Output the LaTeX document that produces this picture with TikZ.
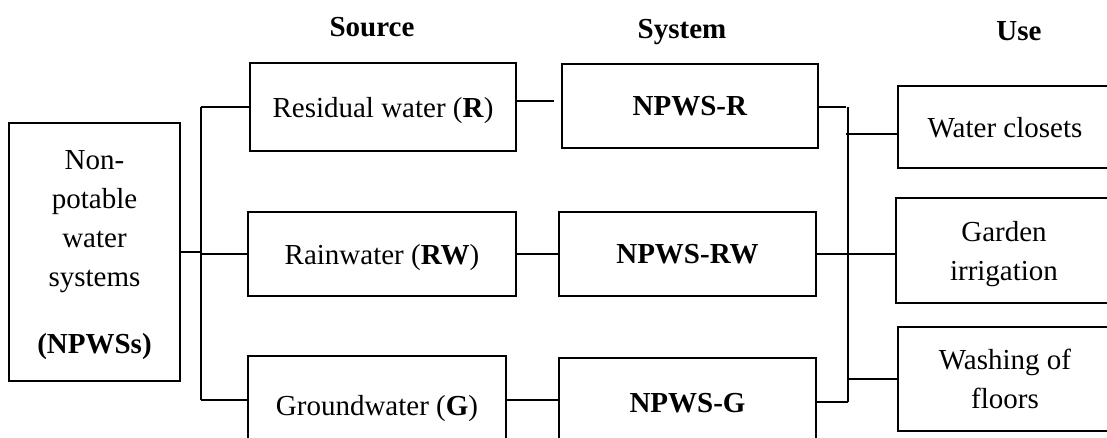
\documentclass[tikz,border=0pt]{standalone}
\usepackage{fontspec}
\setmainfont{Liberation Serif}
\begin{document}
\begin{tikzpicture}[x=0.5pt,y=-0.5pt,line width=0.9pt,
    every node/.style={font=\fontsize{14.5}{19.5}\selectfont},
    box/.style={draw,align=center,inner sep=0pt,text depth=0pt},
    hdr/.style={anchor=base,font=\fontsize{14.5}{19.5}\selectfont\bfseries}]
  \clip (0,0) rectangle (1107,438);

  \node[hdr] (src) at (372,37) {Source};
  \node[hdr] (sys) at (682,39) {System};
  \node[hdr] (use) at (1019,41) {Use};

  \node[box,minimum width=85.5pt,minimum height=129pt] (npws) at (94.5,252)
    {Non-\\potable\\water\\systems\\[14pt]\textbf{(NPWSs)}};

  \node[box,minimum width=133pt,minimum height=44pt] (res) at (383,107) {Residual water (\textbf{R})};
  \node[box,minimum width=134pt,minimum height=42pt] (rain) at (382,254) {Rainwater (\textbf{RW})};
  \node[box,minimum width=129pt,minimum height=49pt] (gnd) at (377,405) {Groundwater (\textbf{G})};

  \node[box,minimum width=128pt,minimum height=42pt] (sysR) at (690,106) {\textbf{NPWS-R}};
  \node[box,minimum width=128.5pt,minimum height=42pt] (sysRW) at (687.5,254) {\textbf{NPWS-RW}};
  \node[box,minimum width=128.5pt,minimum height=45pt] (sysG) at (687.5,403) {\textbf{NPWS-G}};

  \node[box,minimum width=107pt,minimum height=41pt] (wc) at (1005,127) {Water closets};
  \node[box,minimum width=108pt,minimum height=52.5pt] (garden) at (1004,250.5) {Garden\\irrigation};
  \node[box,minimum width=107pt,minimum height=52pt] (wash) at (1005,379) {Washing of\\floors};

  \coordinate (lbT) at (201,107);
  \coordinate (lbB) at (201,400);
  \coordinate (gapR) at (554,101);
  \coordinate (rbT) at (848,107);
  \coordinate (rbB) at (848,402);
  \coordinate (stubR) at (846,107);
  \coordinate (wcJ) at (846,134);

  \begin{scope}[-]
    \draw (lbT) -- (lbB);
    \draw (npws.east) -- (npws.east -| lbT);
    \draw (lbT) -- (res.west);
    \draw (rain.west -| lbT) -- (rain.west);
    \draw (lbB) -- (lbB -| gnd.west);
    \draw (res.east |- gapR) -- (gapR);
    \draw (rain.east) -- (rain.east -| sysRW.west);
    \draw (gnd.east |- lbB) -- (lbB -| sysG.west);
    \draw (rbT) -- (rbB);
    \draw (sysR.east |- stubR) -- (stubR);
    \draw (wcJ) -- (wcJ -| wc.west);
    \draw (sysRW.east) -- (sysRW.east -| garden.west);
    \draw (sysG.east |- rbB) -- (rbB);
    \draw (wash.west -| rbB) -- (wash.west);
  \end{scope}
\end{tikzpicture}
\end{document}
